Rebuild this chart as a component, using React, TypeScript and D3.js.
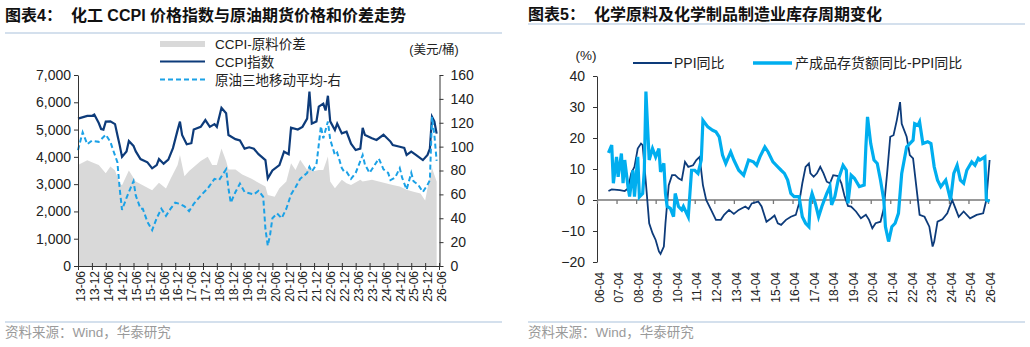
import React, { useRef, useEffect } from "react"
import * as d3 from "d3"

// ---- 图表4: CCPI / 原油 / 价差 (monthly readings) ----
const ccpiDates = [
  "2013-06", "2013-10", "2013-12", "2014-01", "2014-03", "2014-04", "2014-05", "2014-06", "2014-08", "2014-10",
  "2014-11", "2014-12", "2015-01", "2015-03", "2015-04", "2015-06", "2015-07", "2015-09", "2015-12", "2016-02",
  "2016-04", "2016-05", "2016-07", "2016-09", "2016-11", "2017-01", "2017-02", "2017-03", "2017-05", "2017-07",
  "2017-08", "2017-11", "2018-01", "2018-03", "2018-05", "2018-06", "2018-08", "2018-10", "2018-11", "2019-02",
  "2019-04", "2019-06", "2019-08", "2019-10", "2019-12", "2020-03", "2020-04", "2020-06", "2020-09", "2020-11",
  "2021-01", "2021-02", "2021-05", "2021-07", "2021-09", "2021-10", "2021-11", "2022-01", "2022-02", "2022-04",
  "2022-05", "2022-06", "2022-07", "2022-09", "2022-10", "2022-12", "2023-02", "2023-04", "2023-06", "2023-08",
  "2023-09", "2023-10", "2024-01", "2024-03", "2024-06", "2024-09", "2024-10", "2025-01", "2025-03", "2025-04",
  "2025-06", "2025-08", "2025-11", "2026-01", "2026-02", "2026-03", "2026-04", "2026-05",
]
const ccpiValues = [
  5400, 5500, 5500, 5550, 5240, 5020, 5000, 5290, 5300, 5200,
  4800, 4430, 4000, 4200, 4580, 4400, 4200, 3920, 3800, 3580,
  3700, 3920, 3750, 3900, 4320, 4980, 5290, 4800, 4460, 4500,
  5000, 5100, 5350, 5100, 5200, 5100, 5800, 5600, 4800, 4650,
  4600, 4300, 4350, 4300, 4100, 3880, 3210, 3500, 3700, 4190,
  4100, 5070, 5000, 5100, 5400, 6390, 5220, 5300, 5840, 5950,
  5700, 6240, 5300, 4980, 5220, 4860, 4920, 4480, 4250, 4300,
  5060, 4800, 4680, 4620, 4810, 4560, 4430, 4370, 4330, 4070,
  4190, 4070, 3880, 4070, 4300, 5470, 5300, 4850,
]

const oilDates = [
  "2013-06", "2013-08", "2013-10", "2013-12", "2014-03", "2014-06", "2014-08", "2014-09", "2014-11", "2014-12",
  "2015-01", "2015-03", "2015-04", "2015-06", "2015-07", "2015-09", "2015-10", "2015-12", "2016-02", "2016-04",
  "2016-06", "2016-08", "2016-10", "2016-12", "2017-02", "2017-04", "2017-06", "2017-08", "2017-11", "2018-02",
  "2018-05", "2018-07", "2018-10", "2018-11", "2018-12", "2019-02", "2019-04", "2019-06", "2019-10", "2019-12",
  "2020-02", "2020-03", "2020-04", "2020-05", "2020-06", "2020-08", "2020-10", "2020-12", "2021-02", "2021-04",
  "2021-06", "2021-09", "2021-10", "2021-11", "2022-01", "2022-03", "2022-04", "2022-06", "2022-07", "2022-09",
  "2022-10", "2022-12", "2023-01", "2023-02", "2023-04", "2023-06", "2023-09", "2023-10", "2023-12", "2024-01",
  "2024-04", "2024-06", "2024-08", "2024-09", "2024-11", "2025-01", "2025-02", "2025-04", "2025-06", "2025-07",
  "2025-09", "2025-11", "2026-01", "2026-02", "2026-03", "2026-04", "2026-05",
]
const oilValues = [
  97, 112, 102, 105, 104, 110, 104, 98, 87, 65,
  47, 57, 62, 71, 59, 48, 48, 37, 30, 40,
  48, 42, 48, 53, 52, 50, 46, 52, 59, 65,
  73, 72, 81, 65, 53, 62, 69, 62, 60, 63,
  58, 31, 17, 26, 40, 44, 40, 48, 60, 66,
  73, 78, 83, 79, 85, 117, 107, 121, 106, 93,
  95, 82, 79, 79, 73, 78, 93, 85, 78, 81,
  90, 81, 78, 72, 74, 82, 74, 64, 78, 71,
  68, 62, 68, 72, 125, 110, 88,
]

const spreadDates = [
  "2013-06", "2013-10", "2013-12", "2014-03", "2014-06", "2014-08", "2014-10", "2014-12", "2015-01", "2015-04",
  "2015-07", "2015-10", "2016-02", "2016-05", "2016-08", "2016-10", "2017-01", "2017-02", "2017-04", "2017-06",
  "2017-11", "2018-02", "2018-04", "2018-06", "2018-08", "2018-10", "2018-11", "2019-02", "2019-05", "2019-09",
  "2019-11", "2020-03", "2020-04", "2020-07", "2020-09", "2020-12", "2021-02", "2021-04", "2021-06", "2021-09",
  "2021-10", "2021-11", "2022-02", "2022-04", "2022-06", "2022-07", "2022-09", "2022-12", "2023-02", "2023-04",
  "2023-08", "2023-09", "2024-01", "2024-04", "2024-07", "2024-10", "2025-01", "2025-04", "2025-07", "2025-10",
  "2025-12", "2026-01", "2026-03", "2026-05",
]
const spreadValues = [
  3700, 3880, 3800, 3700, 3400, 3650, 3500, 3030, 2960, 3500,
  3100, 2960, 2780, 3050, 2840, 3200, 3700, 4070, 3290, 3480,
  3850, 4000, 3700, 3700, 4310, 3850, 3540, 3540, 3350, 3200,
  3100, 2910, 2600, 2540, 2850, 3100, 3770, 3520, 3890, 3520,
  3710, 3460, 3520, 3520, 4010, 3100, 2850, 3160, 3030, 2970,
  3160, 3100, 3160, 3100, 3030, 2970, 2910, 2790, 2720, 2660,
  2400, 2850, 3590, 3100,
]

// ---- 图表5: PPI同比 / 产成品存货额同比-PPI同比 (%) ----
const ppiDates = [
  "2006-11", "2007-01", "2007-06", "2007-09", "2007-11", "2008-01", "2008-03", "2008-05", "2008-07", "2008-08",
  "2008-10", "2008-12", "2009-02", "2009-04", "2009-06", "2009-07", "2009-09", "2009-10", "2009-12", "2010-02",
  "2010-04", "2010-06", "2010-08", "2010-10", "2010-12", "2011-03", "2011-05", "2011-07", "2011-09", "2011-11",
  "2012-02", "2012-05", "2012-08", "2012-10", "2013-01", "2013-04", "2013-07", "2013-11", "2014-01", "2014-03",
  "2014-07", "2014-09", "2014-12", "2015-03", "2015-05", "2015-07", "2015-09", "2015-12", "2016-03", "2016-06",
  "2016-08", "2016-10", "2016-12", "2017-02", "2017-03", "2017-05", "2017-07", "2017-09", "2017-11", "2018-01",
  "2018-03", "2018-05", "2018-08", "2018-10", "2018-12", "2019-02", "2019-04", "2019-07", "2019-10", "2020-01",
  "2020-03", "2020-05", "2020-07", "2020-10", "2020-12", "2021-02", "2021-04", "2021-06", "2021-08", "2021-10",
  "2021-11", "2022-02", "2022-04", "2022-06", "2022-08", "2022-10", "2023-01", "2023-04", "2023-06", "2023-07",
  "2023-09", "2023-12", "2024-03", "2024-06", "2024-08", "2024-10", "2025-01", "2025-05", "2025-09", "2026-01",
  "2026-03", "2026-05",
]
const ppiValues = [
  2.9, 3.4, 3.2, 2.9, 3.7, 8.6, 10.7, 16.6, 18.2, 17.7,
  5.4, -7.5, -10.7, -12.9, -16.6, -17.4, -15, -7.5, 4.8, 8,
  8, 7, 6.4, 12.3, 10.7, 11.2, 12.9, 13.9, 4.8, 0,
  -3.2, -6.4, -6.4, -4.8, -3.2, -4.5, -3.2, -2.1, -2.9, -1.1,
  -0.5, -2.1, -7, -5.9, -5, -7.5, -8, -6.4, -5.4, -4.8,
  -1.1, 5.4, 10.7, 11.8, 8.6, 7.5, 8.6, 10.7, 8.6, 5.9,
  5.4, 8, 7.7, 5.4, 1.1, -1.9, -2.1, -3.7, -5.9, -4.8,
  -6.4, -9.1, -7.5, -7, -2.7, 8.6, 20.4, 20.9, 25.7, 31.6,
  24.6, 20.4, 14.5, 13.4, 4.3, -4.8, -5.4, -8.6, -15, -13.4,
  -7, -6.2, -4.3, 0, -2.7, -5.4, -3.7, -5.9, -4.8, -4.3,
  0, 12.9,
]

const invDates = [
  "2006-11", "2007-01", "2007-02", "2007-04", "2007-05", "2007-07", "2007-08", "2007-09", "2007-11", "2007-12",
  "2008-02", "2008-03", "2008-05", "2008-06", "2008-08", "2008-09", "2008-10", "2008-11", "2008-12", "2009-02",
  "2009-04", "2009-06", "2009-07", "2009-09", "2009-10", "2009-11", "2010-01", "2010-03", "2010-04", "2010-06",
  "2010-08", "2010-09", "2010-12", "2011-01", "2011-02", "2011-04", "2011-06", "2011-08", "2011-09", "2011-12",
  "2012-03", "2012-05", "2012-07", "2012-09", "2012-11", "2013-02", "2013-04", "2013-07", "2013-10", "2014-01",
  "2014-04", "2014-06", "2014-08", "2014-11", "2015-01", "2015-04", "2015-07", "2015-09", "2015-11", "2016-01",
  "2016-03", "2016-05", "2016-08", "2016-10", "2016-12", "2017-02", "2017-03", "2017-04", "2017-06", "2017-08",
  "2017-10", "2018-01", "2018-03", "2018-04", "2018-06", "2018-08", "2018-11", "2019-01", "2019-02", "2019-04",
  "2019-06", "2019-09", "2019-12", "2020-01", "2020-02", "2020-04", "2020-06", "2020-08", "2020-10", "2020-12",
  "2021-01", "2021-03", "2021-05", "2021-07", "2021-09", "2021-11", "2022-02", "2022-04", "2022-06", "2022-07",
  "2022-09", "2022-10", "2022-12", "2023-03", "2023-05", "2023-07", "2023-09", "2023-11", "2024-02", "2024-04",
  "2024-05", "2024-07", "2024-09", "2024-11", "2025-01", "2025-03", "2025-06", "2025-08", "2025-10", "2025-11",
  "2026-02", "2026-03", "2026-05",
]
const invValues = [
  15.2, 17.7, 5.4, 13.9, 7.5, 15, 5.4, 12.9, 4.3, 1.1,
  9.6, 1.1, 13.9, 1, 2.1, 9.6, 35, 23.6, 12.9, 16.6,
  13.9, 16.6, 9.1, 11.8, 2.1, -2.1, -2.7, -5.4, 2.1, -2.1,
  -3.2, -2.1, -5.4, 2.1, 9.6, 9.6, 8.6, 12.9, 25.7, 23.6,
  22.5, 22, 20.4, 14.5, 11.8, 15.5, 12.9, 9.6, 8, 12.9,
  12.3, 11.2, 13.9, 17.1, 15.5, 12.3, 10.7, 9.6, 8.6, 6.4,
  2.1, 1.1, 1.1, -5.4, -7.5, -8.6, 0, 2.1, -1.1, -5.4,
  -2.1, 2.1, 4.3, -1.6, 1.1, 6.4, 11.2, 9.6, -1.1, 8,
  7, 4.3, 4.8, 17.1, 26.8, 18.2, 12.9, 11.8, 6.4, 0,
  -8.6, -13.4, -8.6, -7.5, -4.3, 8.6, 17.1, 18.2, 19.3, 24.6,
  24.1, 25.2, 18.2, 18.8, 18.2, 10.7, 6.4, 4.3, 6.4, 2.1,
  0, 8.6, 11.2, 6.4, 5.4, 9.6, 12.3, 11.2, 13.4, 12.9,
  13.9, 0, -0.5,
]

const leftTicks = [0, 1000, 2000, 3000, 4000, 5000, 6000, 7000]
const rightTicks = [0, 20, 40, 60, 80, 100, 120, 140, 160]
const pctTicks = [-20, -10, 0, 10, 20, 30, 40]

const FONT = "'Liberation Sans', Arial, 'Noto Sans CJK SC', sans-serif"
const NAVY = "#0D3B7A"
const SKY = "#00AEEF"
const OIL = "#1BA1E6"
const GRAY = "#D9D9D9"
const RULE = "#A9C1DB"

type Point = { date: Date; value: number }
const parseMonth = d3.timeParse("%Y-%m")
const toPoints = (dates: string[], values: number[]): Point[] =>
  dates.map((d, i) => ({ date: parseMonth(d) as Date, value: values[i] }))

type Sel = d3.Selection<SVGSVGElement, unknown, null, undefined>

function header(svg: Sel, x0: number, x1: number, titleY: number, ruleY: number, num: string, title: string) {
  const t = svg
    .append("text")
    .attr("x", x0)
    .attr("y", titleY)
    .attr("dominant-baseline", "central")
    .style("font-family", FONT)
    .style("font-size", "16px")
    .style("font-weight", "bold")
    .style("fill", "#111")
  t.append("tspan").text(num)
  t.append("tspan").attr("dx", 9).text(title)
  svg.append("line").attr("x1", x0).attr("x2", x1).attr("y1", ruleY).attr("y2", ruleY)
    .attr("stroke", RULE).attr("stroke-width", 1.2)
  // footer
  svg.append("line").attr("x1", x0).attr("x2", x1).attr("y1", 322).attr("y2", 322)
    .attr("stroke", RULE).attr("stroke-width", 1.2)
  svg.append("text").attr("x", x0).attr("y", 332).attr("dominant-baseline", "central")
    .style("font-family", FONT).style("font-size", "13.5px").style("fill", "#9a9a9a")
    .text("资料来源：Wind，华泰研究")
}

function styleAxis(g: d3.Selection<SVGGElement, unknown, null, undefined>, size: number) {
  g.selectAll("path").attr("stroke", "#333")
  g.selectAll("line").attr("stroke", "#333")
  g.selectAll("text").style("font-family", FONT).style("font-size", `${size}px`).style("fill", "#222")
  g.attr("font-family", null).attr("font-size", null)
}

function drawLeft(svg: Sel) {
  header(svg, 5, 502, 15, 33, "图表4：", "化工 CCPI 价格指数与原油期货价格和价差走势")

  const ccpi = toPoints(ccpiDates, ccpiValues)
  const oil = toPoints(oilDates, oilValues)
  const spread = toPoints(spreadDates, spreadValues)

  const x = d3.scaleTime().domain([parseMonth("2013-06") as Date, parseMonth("2026-06") as Date]).range([78, 439])
  const yL = d3.scaleLinear().domain([0, 7000]).range([266, 75])
  const yR = d3.scaleLinear().domain([0, 160]).range([266, 75])

  const area = d3.area<Point>().x((d) => x(d.date)).y0(yL(0)).y1((d) => yL(d.value))
  const lineL = d3.line<Point>().x((d) => x(d.date)).y((d) => yL(d.value))
  const lineR = d3.line<Point>().x((d) => x(d.date)).y((d) => yR(d.value))

  svg.append("path").datum(spread).attr("d", area).attr("fill", GRAY)
  svg.append("path").datum(ccpi).attr("d", lineL).attr("fill", "none").attr("stroke", NAVY).attr("stroke-width", 2.2)
  svg.append("path").datum(oil).attr("d", lineR).attr("fill", "none").attr("stroke", OIL)
    .attr("stroke-width", 2).attr("stroke-dasharray", "5,3")

  // left axis
  const gl = svg.append("g").attr("transform", "translate(78,0)")
    .call(d3.axisLeft(yL).tickValues(leftTicks).tickSizeInner(4).tickSizeOuter(0).tickPadding(3).tickFormat(d3.format(",")))
  styleAxis(gl, 14)

  // right axis
  const gr = svg.append("g").attr("transform", "translate(439.5,0)")
    .call(d3.axisRight(yR).tickValues(rightTicks).tickSizeInner(4).tickSizeOuter(0).tickPadding(7))
  styleAxis(gr, 14)

  // bottom axis
  const xTicks = d3.timeMonth.range(parseMonth("2013-06") as Date, parseMonth("2026-07") as Date, 6)
  const gb = svg.append("g").attr("transform", "translate(0,266)")
    .call(d3.axisBottom(x).tickValues(xTicks).tickSizeInner(4).tickSizeOuter(0).tickFormat(d3.timeFormat("%y-%m") as any))
  gb.selectAll(".tick line").attr("y1", -3)
  gb.selectAll(".tick text")
    .attr("transform", "rotate(-90)")
    .attr("text-anchor", "end")
    .attr("x", -5)
    .attr("y", 2.5)
    .attr("dy", "0.35em")
  styleAxis(gb, 12)

  // legend
  svg.append("rect").attr("x", 160).attr("y", 41).attr("width", 45).attr("height", 6).attr("fill", GRAY)
  svg.append("line").attr("x1", 160).attr("x2", 205).attr("y1", 61.5).attr("y2", 61.5).attr("stroke", NAVY).attr("stroke-width", 2.2)
  svg.append("line").attr("x1", 160).attr("x2", 205).attr("y1", 79.5).attr("y2", 79.5).attr("stroke", OIL)
    .attr("stroke-width", 2).attr("stroke-dasharray", "5,3")
  const legend = ["CCPI-原料价差", "CCPI指数", "原油三地移动平均-右"]
  legend.forEach((t, i) => {
    svg.append("text").attr("x", 215).attr("y", 44 + i * 18).attr("dominant-baseline", "central")
      .style("font-family", FONT).style("font-size", "13.5px").style("fill", "#222").text(t)
  })
  svg.append("text").attr("x", 434).attr("y", 50).attr("text-anchor", "middle").attr("dominant-baseline", "central")
    .style("font-family", FONT).style("font-size", "12.5px").style("fill", "#222").text("(美元/桶)")
}

function drawRight(svg: Sel) {
  header(svg, 528, 1025, 14, 24, "图表5：", "化学原料及化学制品制造业库存周期变化")

  const ppi = toPoints(ppiDates, ppiValues)
  const inv = toPoints(invDates, invValues)

  const x = d3.scaleTime().domain([parseMonth("2006-04") as Date, parseMonth("2026-04") as Date]).range([597, 988])
  const y = d3.scaleLinear().domain([-20, 40]).range([262, 76])
  const line = d3.line<Point>().x((d) => x(d.date)).y((d) => y(d.value))

  // left axis
  const gl = svg.append("g").attr("transform", "translate(597,0)")
    .call(d3.axisLeft(y).tickValues(pctTicks).tickSizeInner(4).tickSizeOuter(0).tickPadding(8))
  styleAxis(gl, 14)

  // zero line + yearly ticks
  const years = d3.timeYear.range(parseMonth("2006-01") as Date, parseMonth("2027-01") as Date)
    .map((d) => d3.timeMonth.offset(d, 3))
  const gz = svg.append("g").attr("transform", `translate(0,${y(0)})`)
    .call(d3.axisBottom(x).tickValues(years).tickSizeInner(4).tickSizeOuter(0).tickFormat(() => ""))
  gz.select(".domain").attr("d", `M597,0H990`)
  styleAxis(gz, 12)
  gz.selectAll("path, line").attr("stroke", "#777").attr("stroke-width", 1.3)

  // bottom labels
  const gb = svg.append("g")
  years.forEach((d) => {
    gb.append("text")
      .attr("transform", `translate(${x(d) + 2.5},272) rotate(-90)`)
      .attr("text-anchor", "end")
      .attr("dy", "0.35em")
      .style("font-family", FONT).style("font-size", "12px").style("fill", "#222")
      .text(d3.timeFormat("%y-%m")(d))
  })

  svg.append("path").datum(ppi).attr("d", line).attr("fill", "none").attr("stroke", NAVY).attr("stroke-width", 1.8)
  svg.append("path").datum(inv).attr("d", line).attr("fill", "none").attr("stroke", SKY).attr("stroke-width", 3.2)

  // legend + unit
  svg.append("text").attr("x", 586).attr("y", 55).attr("text-anchor", "middle").attr("dominant-baseline", "central")
    .style("font-family", FONT).style("font-size", "13.5px").style("fill", "#222").text("(%)")
  svg.append("line").attr("x1", 633).attr("x2", 672).attr("y1", 63).attr("y2", 63).attr("stroke", NAVY).attr("stroke-width", 2)
  svg.append("text").attr("x", 674).attr("y", 63).attr("dominant-baseline", "central")
    .style("font-family", FONT).style("font-size", "14px").style("fill", "#222").text("PPI同比")
  svg.append("line").attr("x1", 753).attr("x2", 792).attr("y1", 63).attr("y2", 63).attr("stroke", SKY).attr("stroke-width", 3.5)
  svg.append("text").attr("x", 795).attr("y", 63).attr("dominant-baseline", "central")
    .style("font-family", FONT).style("font-size", "14px").style("fill", "#222").text("产成品存货额同比-PPI同比")
}

const App: React.FC = () => {
  const svgRef = useRef<SVGSVGElement | null>(null)

  useEffect(() => {
    if (!svgRef.current) return
    const svg = d3.select(svgRef.current)
    svg.selectAll("*").remove()
    drawLeft(svg)
    drawRight(svg)
  }, [])

  return (
    <svg
      ref={svgRef}
      width={1030}
      height={347}
      style={{ position: "absolute", left: 0, top: 0, background: "#fff" }}
    ></svg>
  )
}

export default App
